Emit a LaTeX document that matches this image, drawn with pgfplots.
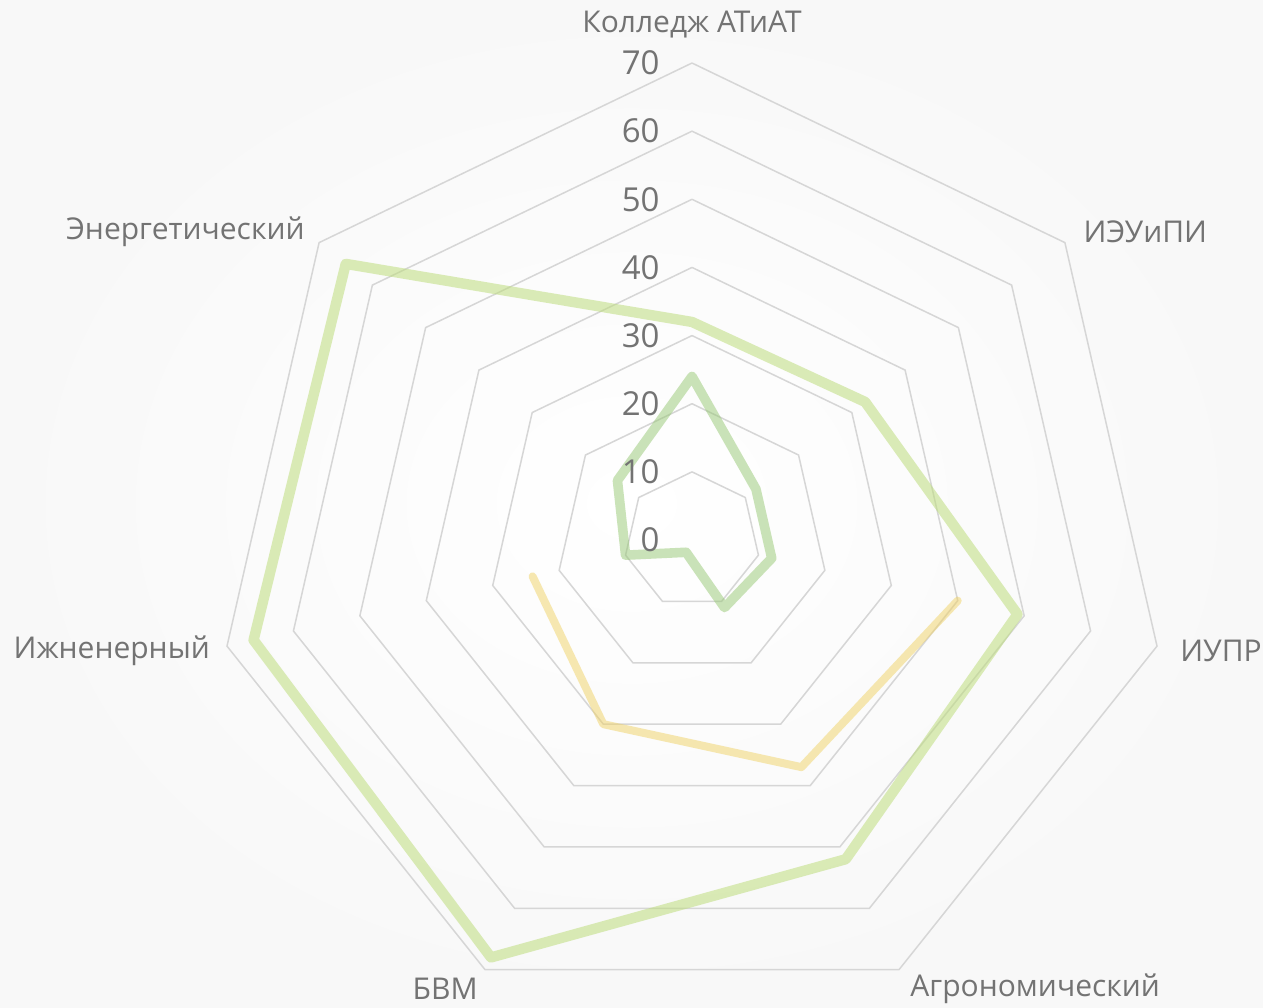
\documentclass[border=0pt]{standalone}
\usepackage{pgfplots}
\pgfplotsset{compat=1.18}
\usepackage{fontspec}
\setmainfont{Open Sans}
\definecolor{lbl}{RGB}{115,115,115}
\definecolor{gridc}{RGB}{214,214,214}
\definecolor{lgreen}{RGB}{190,221,125}
\definecolor{dgreen}{RGB}{150,200,115}
\definecolor{yel}{RGB}{240,210,100}
\definecolor{bgout}{RGB}{248,248,248}
\begin{document}
\begin{tikzpicture}
\shade[inner color=white, outer color=bgout] (0,0) rectangle (631.5pt,503.5pt);
\begin{axis}[name=ax, at={(0,0)}, anchor=south west,
  x=3.407pt, y=3.407pt,
  xmin=-101.556, xmax=83.798, ymin=-68.535, ymax=79.249,
  hide axis, clip=false,
  font=\fontsize{15}{18}\selectfont]
% heptagonal grid
\pgfplotsinvokeforeach{10,20,30,40,50,60,70}{
  \addplot[gridc, line width=0.75pt, data cs=polar, forget plot] coordinates {
    (90,#1) (38.5714,#1) (-12.8571,#1) (-64.2857,#1) (-115.7143,#1) (-167.1429,#1) (141.4286,#1) (90,#1)};
}
% series 1 (light green)
\addplot[lgreen, opacity=0.55, line width=5.2pt, line join=round, line cap=round, data cs=polar] coordinates {
  (90,32) (38.5714,32.5) (-12.8571,49) (-64.2857,52) (-115.7143,68) (-167.1429,66) (141.4286,65) (90,32)};
% series 2 (darker green)
\addplot[dgreen, opacity=0.5, line width=4.8pt, line join=round, line cap=round, data cs=polar] coordinates {
  (90,24) (38.5714,12) (-12.8571,12) (-64.2857,11) (-115.7143,2) (-167.1429,10) (141.4286,14) (90,24)};
% series 3 (yellow, partial)
\addplot[yel, opacity=0.5, line width=4pt, line join=round, line cap=round, data cs=polar] coordinates {
  (-12.8571,40) (-64.2857,37) (-115.7143,30) (-167.1429,24)};
% radial tick labels
\pgfplotsinvokeforeach{0,10,20,30,40,50,60,70}{
  \node[anchor=east, text=lbl, inner sep=0pt, font=\fontsize{16.5}{19}\selectfont] at (axis cs:-4.7,#1) {#1};
}
% category labels
\node[anchor=center, text=lbl, inner sep=0pt] at (axis cs:0,75.7) {Колледж АТиАТ};
\node[anchor=west, text=lbl, inner sep=0pt] at (axis cs:57.4,45.3) {ИЭУиПИ};
\node[anchor=west, text=lbl, inner sep=0pt] at (axis cs:71.6,-16.3) {ИУПР};
\node[anchor=west, text=lbl, inner sep=0pt] at (axis cs:32.0,-65.9) {Агрономический};
\node[anchor=east, text=lbl, inner sep=0pt] at (axis cs:-31.4,-65.9) {БВМ};
\node[anchor=east, text=lbl, inner sep=0pt] at (axis cs:-70.7,-16.3) {Ижненерный};
\node[anchor=east, text=lbl, inner sep=0pt] at (axis cs:-56.8,45.3) {Энергетический};
\end{axis}
\pgfresetboundingbox
\path[use as bounding box] (0,0) rectangle (631.5pt,503.5pt);
\end{tikzpicture}
\end{document}
